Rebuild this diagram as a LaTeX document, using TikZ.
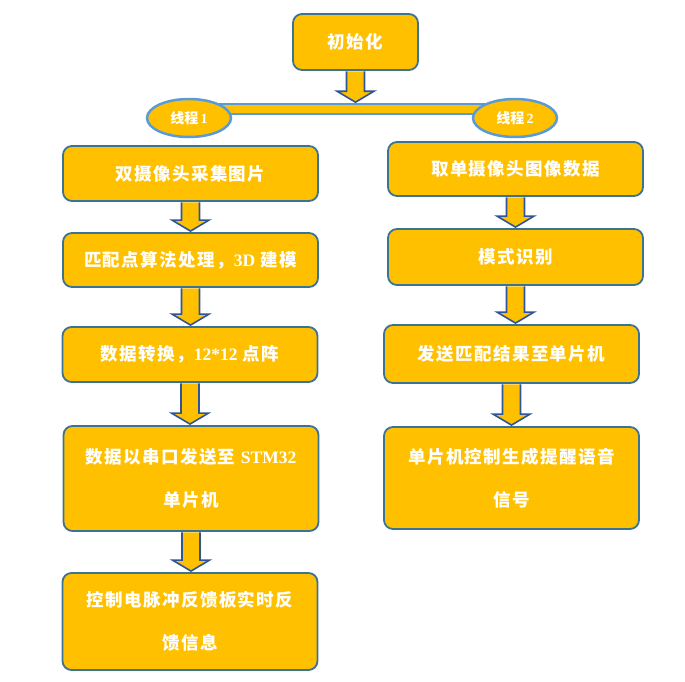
\documentclass[tikz,border=0pt]{standalone}
\usepackage{fontspec}
\newfontfamily\cjk{Noto Sans CJK SC}[LetterSpace=8]
\newfontfamily\cjkn{Noto Sans CJK SC}
\newfontfamily\lat{Liberation Serif}
\usetikzlibrary{shapes.geometric,calc}
\definecolor{fillor}{HTML}{FFC000}
\definecolor{boxline}{HTML}{3A7394}
\definecolor{arrline}{HTML}{2F5597}
\definecolor{ellline}{HTML}{5B9BD5}
\newcommand\La[1]{{\lat\bfseries #1}}
\tikzset{
  stepbox/.style={draw=boxline, line width=1.8pt, fill=fillor, rounded corners=9pt,
    text=white, font=\cjk\bfseries\fontsize{17.5}{43}\selectfont, align=center,
    inner sep=0pt, minimum width=255pt},
  thread/.style={ellipse, draw=ellline, line width=2.5pt, fill=fillor, text=white,
    font=\cjkn\bfseries\fontsize{14}{16}\selectfont, inner sep=0pt,
    minimum width=84pt, minimum height=38pt},
  barstyle/.style={draw=ellline, line width=1.6pt, fill=fillor, inner sep=0pt,
    minimum width=326pt, minimum height=10pt},
  blockarrow/.style={draw=arrline, line width=1.6pt, fill=fillor, line join=miter}
}
\newcommand\barrow[2]{%
  \draw[blockarrow] let \p1=(#1.south), \p2=(#2.north) in
    (\x1-9pt,\y1-0.5pt) -- (\x1-9pt,\y2+12pt) -- (\x1-18.5pt,\y2+12pt) --
    (\x1,\y2+1pt) -- (\x1+18.5pt,\y2+12pt) -- (\x1+9pt,\y2+12pt) -- (\x1+9pt,\y1-0.5pt);}
\begin{document}
\begin{tikzpicture}[x=1pt,y=-1pt]
\useasboundingbox (0,0) rectangle (685,681);
% init and bar
\node[stepbox, minimum width=125pt, minimum height=56pt] (init) at (355.5,42) {初始化};
\node[barstyle] (bar) at (352,109) {};
\node[thread] (th1) at (189,118) {线程\La{\,1}};
\node[thread] (th2) at (515,118) {线程\La{\,2}};
% left column
\node[stepbox, minimum height=55pt] (l1) at (190.5,173.5) {双摄像头采集图片};
\node[stepbox, minimum height=54pt] (l2) at (190.5,260) {匹配点算法处理，\La{3D} 建模};
\node[stepbox, minimum height=55pt] (l3) at (190,354.5) {数据转换，\La{12*12} 点阵};
\node[stepbox, minimum height=105pt] (l4) at (191,478.5) {数据以串口发送至 \La{STM32}\\单片机};
\node[stepbox, minimum height=97pt] (l5) at (190,621.5) {控制电脉冲反馈板实时反\\馈信息};
% right column
\node[stepbox, minimum height=54pt] (r1) at (515.5,169) {取单摄像头图像数据};
\node[stepbox, minimum height=56pt] (r2) at (515.5,257) {模式识别};
\node[stepbox, minimum height=58pt] (r3) at (511.5,354) {发送匹配结果至单片机};
\node[stepbox, minimum height=102pt] (r4) at (511.5,478) {单片机控制生成提醒语音\\信号};
% arrows
\barrow{init}{bar}
\barrow{l1}{l2}
\barrow{l2}{l3}
\barrow{l3}{l4}
\barrow{l4}{l5}
\barrow{r1}{r2}
\barrow{r2}{r3}
\barrow{r3}{r4}
\end{tikzpicture}
\end{document}
